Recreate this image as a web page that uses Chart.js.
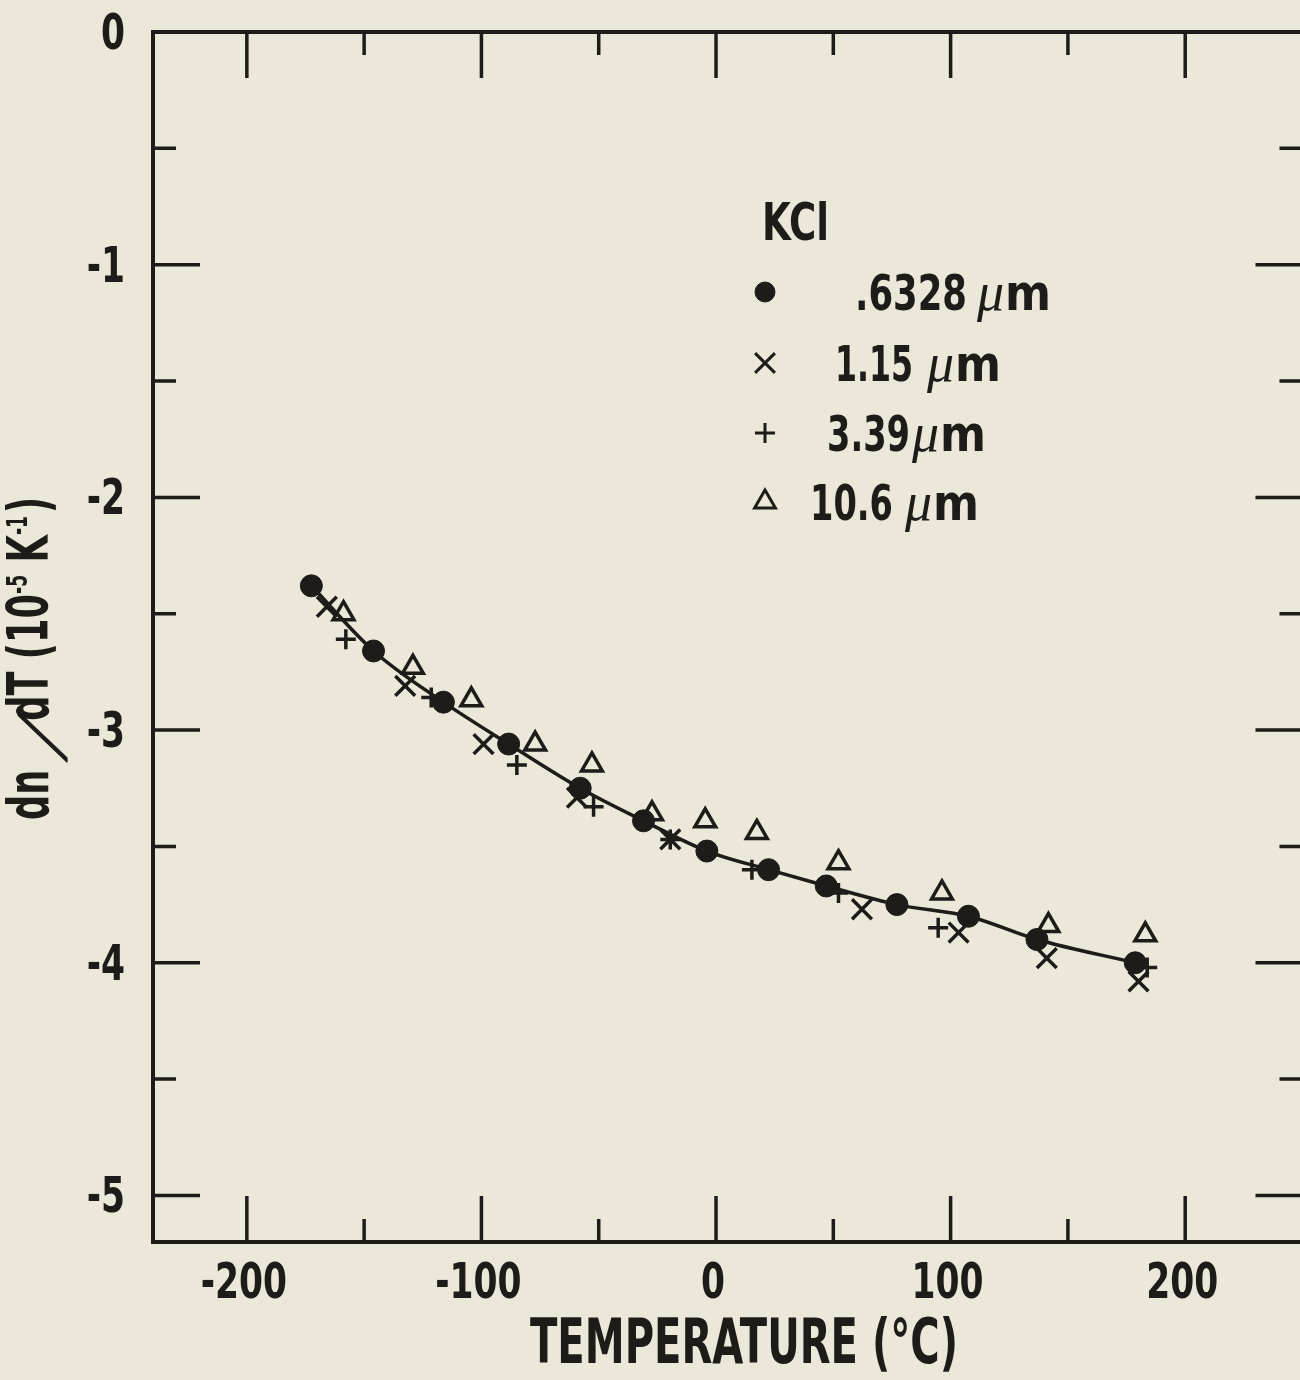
<!DOCTYPE html>
<html>
<head>
<meta charset="utf-8">
<title>KCl dn/dT</title>
<script src="https://cdn.jsdelivr.net/npm/chart.js@4.4.1/dist/chart.umd.min.js"></script>
<style>
  html, body { margin: 0; padding: 0; background: #ebe7d9; overflow: hidden; width: 1300px; height: 1380px; }
  canvas { display: block; }
</style>
</head>
<body>
<canvas id="c" width="1320" height="1380"></canvas>
<script>
// Temperature coefficient of refractive index of KCl at four wavelengths
const material = 'KCl';
const wavelengths = ['.6328', '1.15', '3.39', '10.6'];
const unit = 'μm';

// 0.6328 µm (filled circles, joined by the smooth curve)
const temp0633 = [-172.5, -146.0, -116.2, -88.4, -57.9, -30.9, -3.9, 22.4, 47.0, 77.1, 107.6, 136.8, 178.7];
const dndt0633 = [-2.38, -2.66, -2.88, -3.06, -3.25, -3.39, -3.52, -3.60, -3.67, -3.75, -3.80, -3.90, -4.00];

// 1.15 µm (crosses)
const temp115 = [-165.9, -132.5, -99.1, -59.3, -19.5, 62.2, 103.4, 141.0, 180.1];
const dndt115 = [-2.47, -2.81, -3.06, -3.29, -3.47, -3.77, -3.87, -3.98, -4.08];

// 3.39 µm (plus signs)
const temp339 = [-157.8, -121.4, -84.9, -52.2, -19.5, 15.3, 52.2, 94.7, 183.8];
const dndt339 = [-2.61, -2.86, -3.15, -3.33, -3.47, -3.60, -3.70, -3.85, -4.02];

// 10.6 µm (open triangles)
const temp106 = [-158.8, -129.2, -104.3, -77.1, -52.9, -27.3, -4.6, 17.4, 52.2, 96.3, 141.7, 183.0];
const dndt106 = [-2.50, -2.73, -2.87, -3.06, -3.15, -3.36, -3.39, -3.44, -3.57, -3.70, -3.84, -3.88];

const xTickLabels = [-200, -100, 0, 100, 200];
const yTickLabels = [0, -1, -2, -3, -4, -5];
const xTitle = 'TEMPERATURE (°C)';

const INK = '#1f1b19';
const PAPER = '#ebe7d9';
const FONT = '"Liberation Sans Narrow", "DejaVu Sans Condensed", "Liberation Sans", sans-serif';
const MU_FONT = '"Liberation Serif", "DejaVu Serif", serif';

const pts = (xs, ys) => xs.map((v, i) => ({ x: v, y: ys[i] }));

// frame with inward ticks on all four sides (the right edge sits just past the page)
const framePlugin = {
  id: 'frame',
  beforeDatasetsDraw(chart) {
    const { ctx, chartArea: a, scales: { x, y } } = chart;
    ctx.save();
    ctx.strokeStyle = INK;
    ctx.lineCap = 'butt';
    ctx.lineWidth = 4;
    ctx.beginPath();
    ctx.moveTo(a.right, a.top); ctx.lineTo(a.left - 2, a.top);
    ctx.moveTo(a.left, a.top); ctx.lineTo(a.left, a.bottom);
    ctx.moveTo(a.left - 2, a.bottom); ctx.lineTo(a.right, a.bottom);
    ctx.moveTo(a.right, a.top); ctx.lineTo(a.right, a.bottom);
    ctx.stroke();
    ctx.lineWidth = 3.5;
    ctx.beginPath();
    for (let v = -200; v <= 200; v += 50) {
      const px = x.getPixelForValue(v);
      const len = v % 100 === 0 ? 46 : 23;
      ctx.moveTo(px, a.bottom); ctx.lineTo(px, a.bottom - len);
      ctx.moveTo(px, a.top); ctx.lineTo(px, a.top + len);
    }
    for (let k = -10; k <= -1; k++) {
      const py = y.getPixelForValue(k / 2);
      const len = k % 2 === 0 ? 47 : 23;
      ctx.moveTo(a.left, py); ctx.lineTo(a.left + len, py);
      ctx.moveTo(a.right, py); ctx.lineTo(a.right - len, py);
    }
    ctx.stroke();

    // tick labels from the scales' own ticks, set in a narrow bold face
    ctx.fillStyle = INK;
    ctx.font = 'bold 50px ' + FONT;
    ctx.textBaseline = 'alphabetic';
    const sq = 72 / ctx.measureText('200').width;
    x.ticks.forEach(t => {
      const px = x.getPixelForValue(t.value);
      const w = ctx.measureText(t.label).width * sq;
      ctx.save();
      ctx.translate(px - w / 2 - 3, a.bottom + 56);
      ctx.scale(sq, 1);
      ctx.fillText(t.label, 0, 0);
      ctx.restore();
    });
    y.ticks.forEach(t => {
      const py = y.getPixelForValue(t.value);
      const w = ctx.measureText(t.label).width * sq;
      ctx.save();
      ctx.translate(125 - w, py + 17);
      ctx.scale(sq, 1);
      ctx.fillText(t.label, 0, 0);
      ctx.restore();
    });
    ctx.restore();
  }
};

// text squeezed horizontally to a given width
function fillFit(ctx, text, x, y, width) {
  const w = ctx.measureText(text).width;
  ctx.save();
  ctx.translate(x, y);
  ctx.scale(width / w, 1);
  ctx.textAlign = 'left';
  ctx.fillText(text, 0, 0);
  ctx.restore();
}

// axis titles and the key
const annotatePlugin = {
  id: 'annotate',
  afterDraw(chart) {
    const ctx = chart.ctx;
    ctx.save();
    ctx.fillStyle = INK;
    ctx.strokeStyle = INK;
    ctx.textBaseline = 'alphabetic';

    // x title
    ctx.font = 'bold 62px ' + FONT;
    fillFit(ctx, xTitle, 530, 1363, 428);

    // y title, read bottom to top
    const parts = [
      { t: 'dn', f: 'bold 57px ' + FONT, dy: 0 },
      { t: '/', f: 'bold 58px ' + FONT, dy: 13, shear: 1.1, pre: 18, pad: 34 },
      { t: 'dT (10', f: 'bold 57px ' + FONT, dy: 0 },
      { t: '-5', f: 'bold 28px ' + FONT, dy: -21 },
      { t: ' K', f: 'bold 57px ' + FONT, dy: 0 },
      { t: '-1', f: 'bold 28px ' + FONT, dy: -21 },
      { t: ')', f: 'bold 57px ' + FONT, dy: 0, pre: 4 }
    ];
    let total = 0;
    parts.forEach(p => {
      ctx.font = p.f;
      p.w = ctx.measureText(p.t).width + (p.pad || 0) + (p.pre || 0);
      total += p.w;
    });
    const sx = 323 / total;
    ctx.save();
    ctx.translate(48, 820);
    ctx.rotate(-Math.PI / 2);
    ctx.scale(sx, 1);
    let cx = 0;
    parts.forEach(p => {
      ctx.font = p.f;
      const x0 = cx + (p.pre || 0);
      if (p.shear) {
        ctx.save();
        ctx.translate(x0, p.dy);
        ctx.transform(1, 0, -p.shear, 1, 0, 0);
        ctx.lineWidth = 2.5;
        ctx.lineJoin = 'round';
        ctx.fillText(p.t, 0, 0);
        ctx.strokeText(p.t, 0, 0);
        ctx.restore();
      } else {
        ctx.fillText(p.t, x0, p.dy);
      }
      cx += p.w;
    });
    ctx.restore();

    // key
    ctx.font = 'bold 52px ' + FONT;
    fillFit(ctx, material, 762, 240, 67);
    const rowY = [292, 363, 433, 502];
    const numX = [855, 835, 827, 810];
    const numW = [112, 78, 83, 83];
    const muX = [977, 927, 912, 905];
    chart.data.datasets.forEach((ds, i) => {
      const filled = ds.pointStyle === 'circle';
      ctx.save();
      ctx.fillStyle = filled ? INK : PAPER;
      ctx.strokeStyle = INK;
      ctx.lineWidth = filled ? 1 : 3;
      Chart.helpers.drawPoint(ctx, {
        pointStyle: ds.pointStyle,
        radius: filled ? 10 : ds.pointRadius,
        rotation: 0,
        borderWidth: ctx.lineWidth
      }, 765, rowY[i]);
      ctx.restore();
      ctx.fillStyle = INK;
      ctx.font = 'bold 50px ' + FONT;
      fillFit(ctx, wavelengths[i], numX[i], rowY[i] + 18, numW[i]);
      ctx.font = 'italic 54px ' + MU_FONT;
      ctx.textAlign = 'left';
      ctx.fillText(unit[0], muX[i], rowY[i] + 18);
      const mw = ctx.measureText(unit[0]).width;
      ctx.font = 'bold 50px ' + FONT;
      fillFit(ctx, unit.slice(1), muX[i] + mw + 1, rowY[i] + 18, 46);
    });
    ctx.restore();
  }
};

const markerCommon = { pointBorderColor: INK, borderColor: INK, showLine: false };

new Chart(document.getElementById('c'), {
  type: 'scatter',
  data: {
    datasets: [
      Object.assign({}, markerCommon, {
        label: wavelengths[0] + ' ' + unit,
        data: pts(temp0633, dndt0633),
        pointStyle: 'circle', pointRadius: 11, pointBorderWidth: 1,
        pointBackgroundColor: INK, backgroundColor: INK,
        showLine: true, borderWidth: 3.5, cubicInterpolationMode: 'monotone'
      }),
      Object.assign({}, markerCommon, {
        label: wavelengths[1] + ' ' + unit,
        data: pts(temp115, dndt115),
        pointStyle: 'crossRot', pointRadius: 14, pointBorderWidth: 3.5,
        pointBackgroundColor: 'rgba(0,0,0,0)'
      }),
      Object.assign({}, markerCommon, {
        label: wavelengths[2] + ' ' + unit,
        data: pts(temp339, dndt339),
        pointStyle: 'cross', pointRadius: 10, pointBorderWidth: 3.5,
        pointBackgroundColor: 'rgba(0,0,0,0)'
      }),
      Object.assign({}, markerCommon, {
        label: wavelengths[3] + ' ' + unit,
        data: pts(temp106, dndt106),
        pointStyle: 'triangle', pointRadius: 12, pointBorderWidth: 3.5,
        pointBackgroundColor: 'rgba(0,0,0,0)'
      })
    ]
  },
  options: {
    responsive: false,
    devicePixelRatio: 1,
    animation: false,
    events: [],
    layout: { padding: { left: 0, top: 32, right: 0, bottom: 0 } },
    plugins: { legend: { display: false }, tooltip: { enabled: false }, title: { display: false } },
    scales: {
      x: {
        type: 'linear', min: -240, max: 250,
        afterBuildTicks: s => { s.ticks = xTickLabels.map(v => ({ value: v })); },
        afterFit: s => { s.height = 138; s.paddingLeft = 0; s.paddingRight = 0; },
        grid: { display: false, drawTicks: false },
        border: { display: false },
        ticks: { display: false, autoSkip: false }
      },
      y: {
        type: 'linear', min: -5.2, max: 0,
        afterBuildTicks: s => { s.ticks = yTickLabels.map(v => ({ value: v })); },
        afterFit: s => { s.width = 153; s.paddingTop = 0; s.paddingBottom = 0; },
        grid: { display: false, drawTicks: false },
        border: { display: false },
        ticks: { display: false, autoSkip: false }
      }
    }
  },
  plugins: [framePlugin, annotatePlugin]
});
</script>
</body>
</html>
